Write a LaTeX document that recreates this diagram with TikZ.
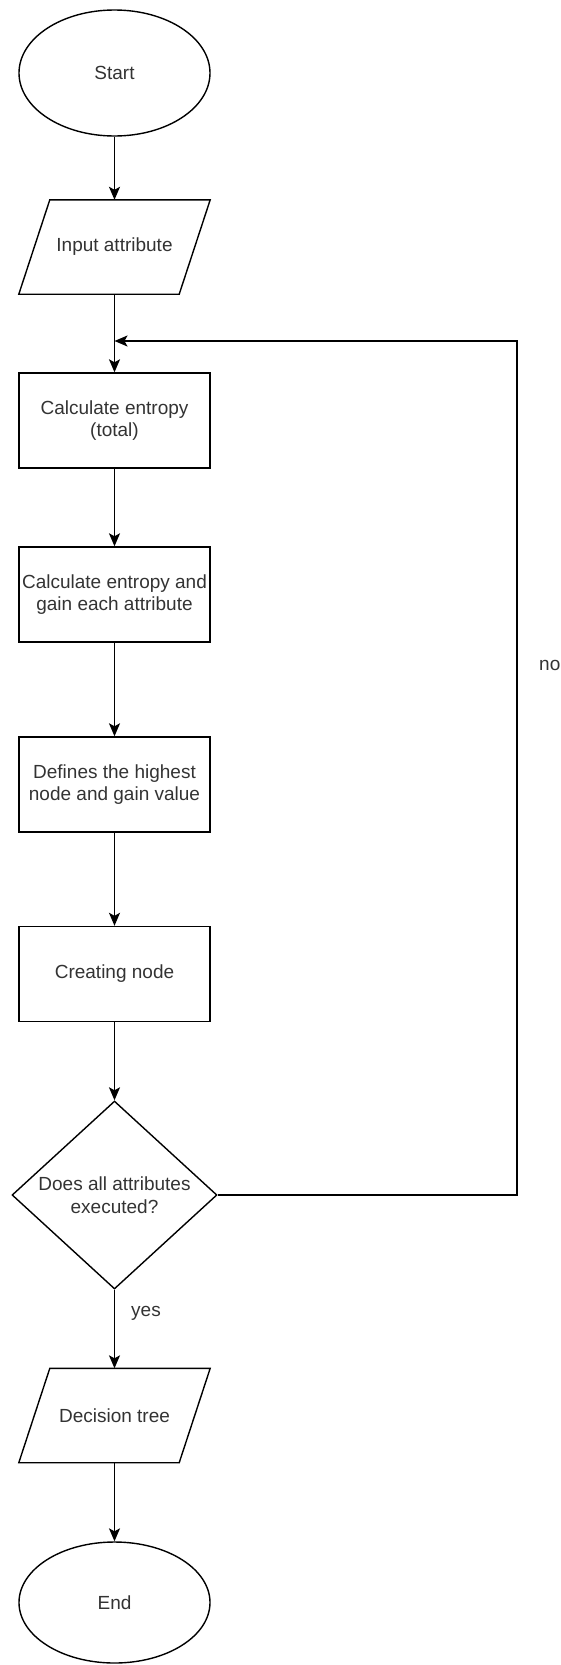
\documentclass[tikz,border=0pt]{standalone}
\usepackage{fontspec}
\setmainfont{Liberation Sans}
\usetikzlibrary{shapes.geometric,arrows.meta}
\definecolor{txt}{HTML}{333333}
\begin{document}
\begin{tikzpicture}[x=1pt,y=-1pt,
  every node/.style={font=\fontsize{19}{22.8}\selectfont, text=txt, align=center, inner sep=0pt},
  term/.style={ellipse, draw, line width=1.4pt, minimum width=191pt},
  procbox/.style={rectangle, draw, line width=1.4pt, minimum width=191pt, minimum height=95pt},
  iobox/.style={rectangle, minimum width=191pt, minimum height=94pt},
  decbox/.style={diamond, draw, line width=1.4pt, minimum width=205pt, minimum height=188pt, aspect=1.09},
  conn/.style={line width=1.4pt, -{Stealth[length=13pt,width=11pt,inset=3pt]}},
  plain/.style={line width=1.4pt}
]
\useasboundingbox (0,0) rectangle (561,1665);
\node[term, minimum height=126pt] (start) at (114.5,73) {Start};
\node[iobox] (inp) at (114.5,247) {Input attribute};
\draw[plain] ([xshift=31pt]inp.north west) -- (inp.north east) -- ([xshift=-31pt]inp.south east) -- (inp.south west) -- cycle;
\node[procbox] (r1) at (114.5,420.5) {Calculate entropy\\(total)};
\node[procbox] (r2) at (114.5,594.5) {Calculate entropy and\\gain each attribute};
\node[procbox] (r3) at (114.5,784.5) {Defines the highest\\node and gain value};
\node[procbox] (r4) at (114.5,974) {Creating node};
\node[decbox] (dec) at (114.5,1195) {Does all attributes\\executed?};
\node[iobox] (dt) at (114.5,1415.5) {Decision tree};
\draw[plain] ([xshift=31pt]dt.north west) -- (dt.north east) -- ([xshift=-31pt]dt.south east) -- (dt.south west) -- cycle;
\node[term, minimum height=121pt] (end) at (114.5,1602.5) {End};
\coordinate (merge) at (114.5,341);
\coordinate (cr) at (517,1195);
\coordinate (ct) at (517,341);
\draw[conn] (start) -- (inp.north);
\draw[conn] (inp.south) -- (r1);
\draw[conn] (r1) -- (r2);
\draw[conn] (r2) -- (r3);
\draw[conn] (r3) -- (r4);
\draw[conn] (r4) -- (dec);
\draw[conn] (dec) -- (dt.north);
\draw[conn] (dt.south) -- (end);
\draw[conn] (dec.east) -- (cr) -- (ct) -- (merge);
\node[anchor=west] (nolab) at (539,665) {no};
\node[anchor=west] (yeslab) at (131,1313) {yes};
\end{tikzpicture}
\end{document}
